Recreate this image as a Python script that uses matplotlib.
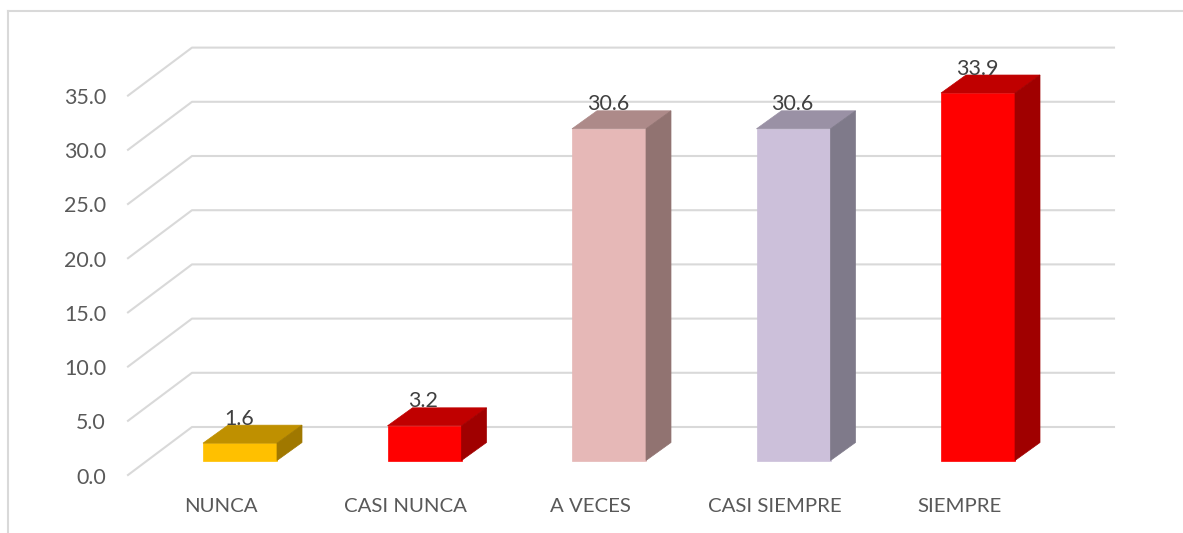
import matplotlib
matplotlib.use("Agg")
import matplotlib.pyplot as plt
from matplotlib.patches import Polygon

# Data
categories = ["NUNCA", "CASI NUNCA", "A VECES", "CASI SIEMPRE", "SIEMPRE"]
values = [1.6, 3.2, 30.6, 30.6, 33.9]
y_ticks = [0, 5, 10, 15, 20, 25, 30, 35]

front_colors = ["#FFC000", "#FF0000", "#E6B8B7", "#CCC0DA", "#FF0000"]
top_colors = ["#BF9000", "#C00000", "#AD8A89", "#9A91A5", "#C00000"]
side_colors = ["#A07800", "#A00000", "#917371", "#7F7A8A", "#A00000"]

GRID = "#D9D9D9"
TEXT = "#595959"
LABEL = "#404040"
FONT_SIZE = 15.4
CAT_FONT_SIZE = 14.7

# pixel scale of the axes, one category / one value unit
PX_X = 184.5
PX_Y = 10.84
WIDTH, HEIGHT = 1183, 533
X0, Y0 = 240, 460.5  # pixel of first bar centre at value 0

plt.rcParams["font.family"] = ["Lato", "DejaVu Sans"]

fig = plt.figure(figsize=(WIDTH / 100, HEIGHT / 100), dpi=100)
ax = fig.add_axes([0, 0, 1, 1])
ax.set_xlim(-X0 / PX_X, (WIDTH - X0) / PX_X)
ax.set_ylim((Y0 - HEIGHT) / PX_Y, Y0 / PX_Y)
ax.axis("off")


def px_dx(p):
    return p / PX_X


def px_dy(p):
    return p / PX_Y


half_w = px_dx(37)
depth_x = px_dx(25)
depth_y = px_dy(18)

# Chart frame
ax.plot([px_dx(8 - X0), px_dx(8 - X0)], [px_dy(Y0 - 533), px_dy(Y0 - 11)], color=GRID, lw=1.5)
ax.plot([px_dx(8 - X0), px_dx(1183 - X0)], [px_dy(Y0 - 11), px_dy(Y0 - 11)], color=GRID, lw=1.5)

# Gridlines: floor/wall and tick labels
wall_left = px_dx(192 - X0)
wall_right = px_dx(1114 - X0)
wall_off = px_dy(Y0 - 427)
front_left = px_dx(128 - X0)
front_off = px_dy(Y0 - 475)
for v in y_ticks:
    ax.plot([front_left, wall_left, wall_right],
            [v + front_off, v + wall_off, v + wall_off],
            color=GRID, lw=1.5, zorder=1)
    ax.text(px_dx(106 - X0), v + front_off - px_dy(2.5), f"{v:.1f}", ha="right", va="center",
            color=TEXT, fontsize=FONT_SIZE, zorder=5)

# 3D bars
for i, (cat, val) in enumerate(zip(categories, values)):
    l, r = i - half_w, i + half_w
    ax.add_patch(Polygon([(l, 0), (r, 0), (r, val), (l, val)],
                         facecolor=front_colors[i], edgecolor=front_colors[i], lw=0.5, zorder=3))
    ax.add_patch(Polygon([(l, val), (r, val), (r + depth_x, val + depth_y), (l + depth_x, val + depth_y)],
                         facecolor=top_colors[i], edgecolor=top_colors[i], lw=0.5, zorder=3))
    ax.add_patch(Polygon([(r, 0), (r + depth_x, depth_y), (r + depth_x, val + depth_y), (r, val)],
                         facecolor=side_colors[i], edgecolor=side_colors[i], lw=0.5, zorder=3))
    ax.text(i - px_dx(1), val + px_dy(24.5), f"{val:.1f}", ha="center", va="center",
            color=LABEL, fontsize=FONT_SIZE, zorder=6)
    ax.text(i - px_dx(19), px_dy(Y0 - 506), cat, ha="center", va="center",
            color=TEXT, fontsize=CAT_FONT_SIZE, zorder=5)

fig.savefig("out.png", dpi=100, facecolor="white")
